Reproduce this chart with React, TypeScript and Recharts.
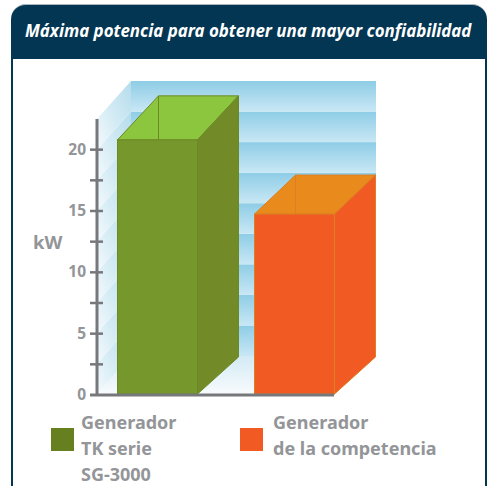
import { BarChart, Bar, XAxis, YAxis, Legend } from "recharts";

const categories = ["Generador TK serie SG-3000", "Generador de la competencia"];
const potencia = [20.8, 14.75];
const yTicks = [0, 2.5, 5, 7.5, 10, 12.5, 15, 17.5, 20, 22.5];
const labeledTicks = [0, 5, 10, 15, 20];
const legendLines = [
  ["Generador", "TK serie", "SG-3000"],
  ["Generador", "de la competencia"],
];

const data = categories.map((name, i) => ({ name, kw: potencia[i] }));

const FONT = "'Noto Sans', sans-serif";
const GREY = "#939598";
const AXIS = "#77787b";
const NAVY = "#023652";

const LEFT = 97;
const TOP = 119;
const PLOT_W = 237;
const PLOT_H = 275;
const Y_MAX = 22.5;

// perspective of the fake 3d box
const DEPTH_X = 41;
const WALL_X = 34;
const WALL_Y = 38;
const topDepth = [44, 39];

const barStyles = [
  { front: "#76972b", side: "#728b28", top: "#8cc63f", edge: "#6c8a24", legend: "#66801f" },
  { front: "#f15a22", side: "#f15a22", top: "#e98b1c", edge: "#dc7f22", legend: "#f15a22" },
];

const yOf = (v: number) => TOP + PLOT_H * (1 - v / Y_MAX);

// sits in its own svg under the chart so the axes stay on top of it
function Backdrop() {
  const bands = yTicks.slice(1);
  const wallLeft = LEFT + WALL_X;
  const bandH = yOf(0) - yOf(2.5);
  return (
    <svg width={488} height={486} style={{ position: "absolute", left: 0, top: 0 }}>
      <defs>
        <linearGradient id="wallBand" x1="0" y1="0" x2="0" y2="1">
          <stop offset="0" stopColor="#8ecde6" />
          <stop offset="1" stopColor="#c9e7f5" />
        </linearGradient>
        <linearGradient id="sideBand" x1="1" y1="0" x2="0" y2="1">
          <stop offset="0" stopColor="#b4dcec" />
          <stop offset="0.55" stopColor="#d6ecf5" />
          <stop offset="1" stopColor="#f4fafd" />
        </linearGradient>
        <linearGradient id="floorFill" x1="0" y1="0" x2="0" y2="1">
          <stop offset="0" stopColor="#d3eaf5" />
          <stop offset="1" stopColor="#f8fbfd" />
        </linearGradient>
      </defs>
      {bands.map((v) => {
        const y = yOf(v);
        return (
          <g key={v}>
            <rect x={wallLeft} y={y - WALL_Y} width={245} height={bandH} fill="url(#wallBand)" />
            <polygon
              points={`${LEFT},${y} ${wallLeft},${y - WALL_Y} ${wallLeft},${y - WALL_Y + bandH} ${LEFT},${y + bandH}`}
              fill="url(#sideBand)"
            />
          </g>
        );
      })}
      <polygon
        points={`${LEFT},${yOf(0)} ${wallLeft},${yOf(0) - WALL_Y} ${wallLeft + 245},${yOf(0) - WALL_Y} ${LEFT + PLOT_W},${yOf(0)}`}
        fill="url(#floorFill)"
      />
    </svg>
  );
}

function Box3D(props: any) {
  const { x, y, width, height, index } = props;
  const s = barStyles[index];
  const dy = topDepth[index];
  const r = x + width;
  const base = y + height;
  // stop just short of the baseline, the axes are painted under the bars
  const frontH = height - 1;
  return (
    <g strokeWidth={1} stroke={s.edge}>
      <polygon points={`${x},${y} ${x + DEPTH_X},${y - dy} ${r + DEPTH_X},${y - dy} ${r},${y}`} fill={s.top} />
      <line x1={x + DEPTH_X} y1={y - dy} x2={x + DEPTH_X} y2={y} />
      <polygon
        points={`${r},${y} ${r + DEPTH_X},${y - dy} ${r + DEPTH_X},${base - WALL_Y} ${r},${base - 1}`}
        fill={s.side}
      />
      <rect x={x} y={y} width={width} height={frontH} fill={s.front} />
    </g>
  );
}

function KwTick(props: any) {
  const { x, y, payload } = props;
  const v = payload.value;
  if (v === Y_MAX) return null;
  return (
    <g>
      <line x1={x - 7} x2={v === 0 ? x : x + 6} y1={y} y2={y} stroke={AXIS} strokeWidth={v === 0 ? 3 : 2.5} />
      {labeledTicks.includes(v) && (
        <text x={x - 11} y={y + 5} textAnchor="end" fontFamily={FONT} fontWeight={700} fontSize={15.5} fill={GREY}>
          {v}
        </text>
      )}
    </g>
  );
}

function LegendBlock() {
  const lefts = [51, 240];
  return (
    <div style={{ position: "relative", width: 488, height: 90 }}>
      {legendLines.map((lines, i) => (
        <div key={i}>
          <div
            style={{
              position: "absolute",
              left: lefts[i],
              top: 32,
              width: 23,
              height: 23,
              background: barStyles[i].legend,
            }}
          />
          <div
            style={{
              position: "absolute",
              left: lefts[i] + (i === 0 ? 30 : 33),
              top: 13,
              fontFamily: FONT,
              fontWeight: 700,
              fontSize: 18,
              lineHeight: "26px",
              color: GREY,
              whiteSpace: "nowrap",
              textAlign: "left",
            }}
          >
            {lines.map((l) => (
              <div key={l}>{l}</div>
            ))}
          </div>
        </div>
      ))}
    </div>
  );
}

export default function App() {
  return (
    <div style={{ position: "absolute", left: 0, top: 0, width: 488, height: 486, overflow: "hidden", background: "#fff" }}>
      <div
        style={{
          position: "absolute",
          left: 11,
          top: 59,
          width: 472,
          height: 427,
          borderLeft: `2px solid ${NAVY}`,
          borderRight: `2px solid ${NAVY}`,
        }}
      />
      <div
        style={{
          position: "absolute",
          left: 11,
          top: 4,
          width: 476,
          height: 55,
          background: NAVY,
          borderTop: "1px solid #a8b6bf",
          borderRadius: "15px 15px 0 0",
          color: "#fff",
          fontFamily: FONT,
          fontWeight: 700,
          fontStyle: "italic",
          fontSize: 16.9,
          lineHeight: "52px",
          paddingLeft: 14,
          boxSizing: "border-box",
          whiteSpace: "nowrap",
        }}
      >
        Máxima potencia para obtener una mayor confiabilidad
      </div>
      <Backdrop />
      <div style={{ position: "absolute", left: 0, top: 0 }}>
        <BarChart width={488} height={486} data={data} margin={{ top: TOP, right: 488 - LEFT - PLOT_W, left: 0, bottom: 0 }}>
          <XAxis
            dataKey="name"
            height={1}
            tick={false}
            tickLine={false}
            axisLine={{ stroke: AXIS, strokeWidth: 3 }}
            padding={{ left: -8.5, right: -28.5 }}
          />
          <YAxis
            width={LEFT}
            domain={[0, Y_MAX]}
            ticks={yTicks}
            interval={0}
            tickSize={0}
            tickMargin={0}
            tickLine={false}
            tick={KwTick}
            axisLine={{ stroke: AXIS, strokeWidth: 3 }}
            label={{
              value: "kW",
              position: "insideLeft",
              offset: 33,
              dy: -15,
              style: { fontFamily: FONT, fontWeight: 700, fontSize: 18.5, fill: GREY },
            }}
          />
          <Bar dataKey="kw" barSize={80} shape={Box3D} isAnimationActive={false} />
          <Legend
            verticalAlign="bottom"
            align="left"
            wrapperStyle={{ left: 0, width: 488, height: 90 }}
            content={<LegendBlock />}
          />
        </BarChart>
      </div>
    </div>
  );
}
